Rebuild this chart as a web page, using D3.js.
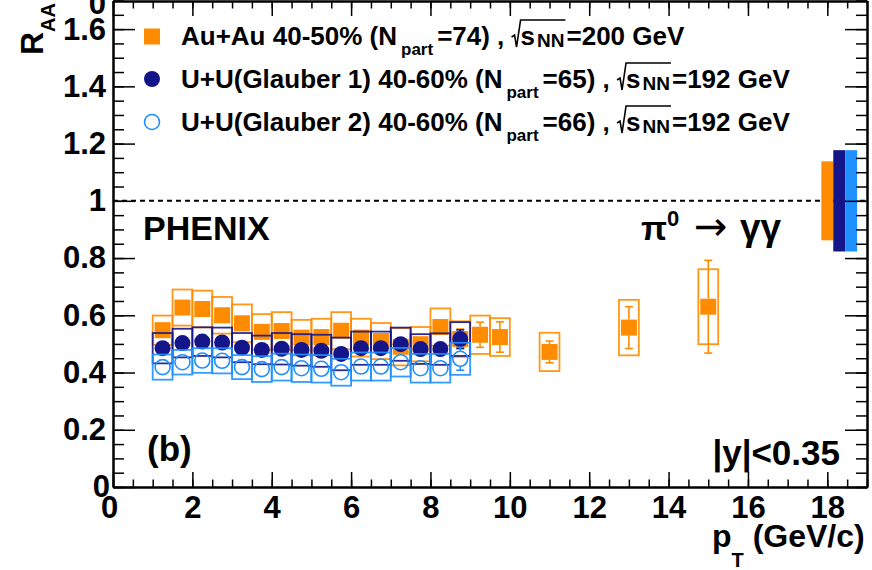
<!DOCTYPE html>
<html><head><meta charset="utf-8">
<script src="https://cdn.jsdelivr.net/npm/d3@7"></script>
<style>
html,body{margin:0;padding:0;background:#fff;}
svg{display:block;font-family:"Liberation Sans",Arial,Helvetica,sans-serif;font-weight:bold;}
svg text{white-space:pre;}
</style></head><body>
<svg id="c" width="872" height="570"></svg>
<script>
// ---------- data ----------
const ptLow = [1.25,1.75,2.25,2.75,3.25,3.75,4.25,4.75,5.25,5.75,6.25,6.75,7.25,7.75,8.25,8.75];
const ptAu  = [1.25,1.75,2.25,2.75,3.25,3.75,4.25,4.75,5.25,5.75,6.25,6.75,7.25,7.75,8.25,8.75,9.25,9.75,11,13,15];
const raaAu  = [0.548,0.627,0.622,0.600,0.572,0.542,0.545,0.522,0.524,0.546,0.522,0.510,0.490,0.499,0.559,0.517,0.532,0.524,0.472,0.557,0.630];
const statAu = [0.004,0.005,0.005,0.006,0.006,0.007,0.008,0.009,0.010,0.011,0.012,0.014,0.016,0.018,0.026,0.035,0.044,0.053,0.038,0.073,0.162];
const sysAu  = [0.051,0.063,0.064,0.064,0.066,0.062,0.066,0.062,0.064,0.065,0.066,0.063,0.065,0.060,0.065,0.062,0.067,0.066,0.067,0.097,0.131];
const raaG1  = [0.485,0.503,0.508,0.505,0.487,0.479,0.483,0.479,0.476,0.465,0.485,0.485,0.499,0.482,0.482,0.517];
const statG1 = [0.004,0.004,0.005,0.005,0.006,0.006,0.007,0.008,0.009,0.010,0.011,0.013,0.015,0.017,0.020,0.032];
const sysG1  = [0.053,0.050,0.050,0.052,0.051,0.050,0.055,0.055,0.056,0.057,0.058,0.058,0.058,0.052,0.055,0.059];
const raaG2  = [0.419,0.436,0.442,0.441,0.419,0.412,0.419,0.415,0.413,0.401,0.421,0.421,0.436,0.415,0.415,0.448];
const statG2 = [0.004,0.004,0.005,0.005,0.006,0.006,0.007,0.008,0.009,0.010,0.011,0.013,0.015,0.017,0.020,0.040];
const sysG2  = [0.044,0.043,0.043,0.044,0.042,0.045,0.047,0.048,0.048,0.047,0.049,0.049,0.050,0.050,0.050,0.056];
const normBoxes = [ // global normalization uncertainties at RAA = 1
  {x0:17.85, x1:18.15, err:0.138, c:"orange"},
  {x0:18.15, x1:18.45, err:0.177, c:"navy"},
  {x0:18.45, x1:18.75, err:0.177, c:"blue"}];
const xMajor = [0,2,4,6,8,10,12,14,16,18];
const yMajor = [0,0.2,0.4,0.6,0.8,1.0,1.2,1.4,1.6];

const COL = {orange:"#ff8c00", navy:"#15158a", blue:"#1e90ff"};

// ---------- setup ----------
const svg = d3.select("#c");
const L=113, R=867, T=0.5, B=487;
const x = d3.scaleLinear().domain([0,19]).range([L,R]);
const y = d3.scaleLinear().domain([0,1.7]).range([B,T]);
const HW = 0.25; // half width of systematic boxes in pT
const MS = 8;    // marker half size (px)

const plot = svg.append("g");

// dashed unity line
plot.append("line").attr("x1",x(0)).attr("x2",x(19)).attr("y1",y(1)).attr("y2",y(1))
  .attr("stroke","#000").attr("stroke-width",2).attr("stroke-dasharray","5,4");

// normalization boxes
plot.selectAll("rect.norm").data(normBoxes).enter().append("rect")
  .attr("x",d=>x(d.x0)).attr("width",d=>x(d.x1)-x(d.x0))
  .attr("y",d=>y(1+d.err)).attr("height",d=>y(1-d.err)-y(1+d.err))
  .attr("fill",d=>COL[d.c]);

function series(xs, vals, stat, sys, color, kind){
  const g = plot.append("g");
  const data = xs.map((p,i)=>({p, v:vals[i], st:stat[i], sy:sys[i]}));
  g.selectAll("rect").data(data).enter().append("rect")
    .attr("x",d=>x(d.p-HW)).attr("width",d=>x(d.p+HW)-x(d.p-HW))
    .attr("y",d=>y(d.v+d.sy)).attr("height",d=>y(d.v-d.sy)-y(d.v+d.sy))
    .attr("fill","none").attr("stroke",color).attr("stroke-width",1.8).attr("stroke-opacity",0.9);
  // statistical error bars drawn only outside the marker (ROOT style)
  const big = data.filter(d=> (y(d.v)-y(d.v+d.st)) > MS);
  const eb = g.selectAll("g.eb").data(big).enter().append("g").attr("stroke",color).attr("stroke-width",1.6);
  eb.append("line").attr("x1",d=>x(d.p)).attr("x2",d=>x(d.p)).attr("y1",d=>y(d.v+d.st)).attr("y2",d=>y(d.v)-MS);
  eb.append("line").attr("x1",d=>x(d.p)).attr("x2",d=>x(d.p)).attr("y1",d=>y(d.v)+MS).attr("y2",d=>y(d.v-d.st));
  eb.append("line").attr("x1",d=>x(d.p)-4).attr("x2",d=>x(d.p)+4).attr("y1",d=>y(d.v+d.st)).attr("y2",d=>y(d.v+d.st));
  eb.append("line").attr("x1",d=>x(d.p)-4).attr("x2",d=>x(d.p)+4).attr("y1",d=>y(d.v-d.st)).attr("y2",d=>y(d.v-d.st));
  if(kind==="square"){
    g.selectAll("rect.m").data(data).enter().append("rect").attr("class","m")
      .attr("x",d=>x(d.p)-MS).attr("y",d=>y(d.v)-MS).attr("width",2*MS).attr("height",2*MS).attr("fill",color);
  } else if(kind==="circle"){
    g.selectAll("circle").data(data).enter().append("circle")
      .attr("cx",d=>x(d.p)).attr("cy",d=>y(d.v)).attr("r",MS).attr("fill",color);
  } else {
    g.selectAll("circle").data(data).enter().append("circle")
      .attr("cx",d=>x(d.p)).attr("cy",d=>y(d.v)).attr("r",MS-0.5).attr("fill","none")
      .attr("stroke",color).attr("stroke-width",1.6);
  }
}
series(ptAu, raaAu, statAu, sysAu, COL.orange, "square");
series(ptLow, raaG1, statG1, sysG1, COL.navy, "circle");
series(ptLow, raaG2, statG2, sysG2, COL.blue, "open");

// ---------- axes ----------
const fmtY = d=> d===0? "0" : (d===1? "1" : d3.format(".1f")(d));
const minorY = d3.range(0,1.7001,0.05);
const minorX = d3.range(0,19.001,0.5);
function styleAxis(g){
  g.select(".domain").attr("stroke","#000").attr("stroke-width",2);
  g.selectAll(".tick line").attr("stroke","#000").attr("stroke-width",1.5);
  g.selectAll("text").attr("font-size",31).attr("font-weight","bold").attr("fill","#000")
   .attr("font-family","'Liberation Sans',Arial,sans-serif");
}
// left
const gl = svg.append("g").attr("transform",`translate(${L},0)`)
  .call(d3.axisLeft(y).tickValues(yMajor).tickFormat(fmtY).tickSizeInner(-22).tickSizeOuter(0).tickPadding(7));
styleAxis(gl);
gl.selectAll(".tick text").filter(d=>d===0).attr("x",-3);
svg.append("g").attr("transform",`translate(${L},0)`)
  .call(d3.axisLeft(y).tickValues(minorY).tickFormat("").tickSizeInner(-11).tickSizeOuter(0)).call(styleAxis);
// right
svg.append("g").attr("transform",`translate(${R},0)`)
  .call(d3.axisRight(y).tickValues(yMajor).tickFormat("").tickSizeInner(-22).tickSizeOuter(0)).call(styleAxis);
svg.append("g").attr("transform",`translate(${R},0)`)
  .call(d3.axisRight(y).tickValues(minorY).tickFormat("").tickSizeInner(-11).tickSizeOuter(0)).call(styleAxis);
// bottom
const gb = svg.append("g").attr("transform",`translate(0,${B})`)
  .call(d3.axisBottom(x).tickValues(xMajor).tickFormat(d3.format("d")).tickSizeInner(-15).tickSizeOuter(0).tickPadding(9));
styleAxis(gb);
gb.selectAll(".tick text").filter(d=>d===0).attr("x",-4);
svg.append("g").attr("transform",`translate(0,${B})`)
  .call(d3.axisBottom(x).tickValues(minorX).tickFormat("").tickSizeInner(-7.5).tickSizeOuter(0)).call(styleAxis);
// top
svg.append("g").attr("transform",`translate(0,${T+0.5})`)
  .call(d3.axisTop(x).tickValues(xMajor).tickFormat("").tickSizeInner(-15).tickSizeOuter(0)).call(styleAxis);
svg.append("g").attr("transform",`translate(0,${T+0.5})`)
  .call(d3.axisTop(x).tickValues(minorX).tickFormat("").tickSizeInner(-7.5).tickSizeOuter(0)).call(styleAxis);

// clipped label of the panel above
svg.append("text").attr("x",106).attr("y",13.5).attr("text-anchor","end").attr("font-size",31).text("0");

// ---------- rich text helper ----------
function rich(g, x0, base, parts){
  let cx = x0, sq = null;
  parts.forEach(p=>{
    if(p.at!==undefined){ cx = p.at; }
    if(p.gap){ cx += p.gap; return; }
    if(p.sqrtStart){ sq = cx; cx += 9; return; }
    if(p.sqrtEnd){
      g.append("path").attr("d",`M${sq},${base-8} L${sq+3},${base-10} L${sq+5},${base+2} L${sq+9},${base-25} L${cx+1},${base-25}`)
        .attr("fill","none").attr("stroke","#000").attr("stroke-width",1.6);
      cx += 2; return;
    }
    if(p.t===undefined) return;
    const t = g.append("text").attr("x",cx).attr("y",base+(p.dy||0)).attr("font-size",p.size).text(p.t);
    if(p.family) t.attr("font-family",p.family).attr("font-weight",p.weight||"bold");
    cx += t.node().getComputedTextLength();
  });
  return cx;
}

// legend
const lg = svg.append("g");
lg.append("rect").attr("x",144).attr("y",28.5).attr("width",16).attr("height",16).attr("fill",COL.orange);
lg.append("circle").attr("cx",152).attr("cy",79).attr("r",8).attr("fill",COL.navy);
lg.append("circle").attr("cx",152).attr("cy",122).attr("r",7.5).attr("fill","none").attr("stroke",COL.blue).attr("stroke-width",1.6);
const legendRows = [
  {lab:"Au+Au 40-50% (N", np:"=74) , ", e:"=200 GeV", base:45},
  {lab:"U+U(Glauber 1) 40-60% (N", np:"=65) , ", e:"=192 GeV", base:88},
  {lab:"U+U(Glauber 2) 40-60% (N", np:"=66) , ", e:"=192 GeV", base:131}];
legendRows.forEach(r=>{
  rich(lg, 181, r.base, [
    {t:r.lab,size:26},{gap:4},{t:"part",size:17,dy:10},{gap:4},{t:r.np,size:26},
    {sqrtStart:true},{t:"s",size:26},{gap:2},{t:"NN",size:19,dy:2},{sqrtEnd:true},{t:r.e,size:26}]);
});

// annotations
svg.append("text").attr("x",143).attr("y",240).attr("font-size",34).text("PHENIX");
rich(svg, 641, 240, [{t:"π",size:34},{t:"0",size:22,dy:-14},
  {at:694, t:"→", size:40, family:"DejaVu Sans", weight:"normal"},
  {at:740, t:"γγ", size:37}]);
svg.append("text").attr("x",147).attr("y",461).attr("font-size",35).text("(b)");
svg.append("text").attr("x",840).attr("y",465).attr("text-anchor","end").attr("font-size",35).text("|y|<0.35");

// axis titles
rich(svg, 712, 547, [{t:"p",size:32},{t:"T",size:20,dy:20},{t:"\u00a0(GeV/c)",size:32}]);
const yt = svg.append("text").attr("transform","translate(43,55) rotate(-90)").attr("font-size",32);
yt.append("tspan").text("R");
yt.append("tspan").attr("font-size",20).attr("dy",12).text("AA");
</script></body></html>
